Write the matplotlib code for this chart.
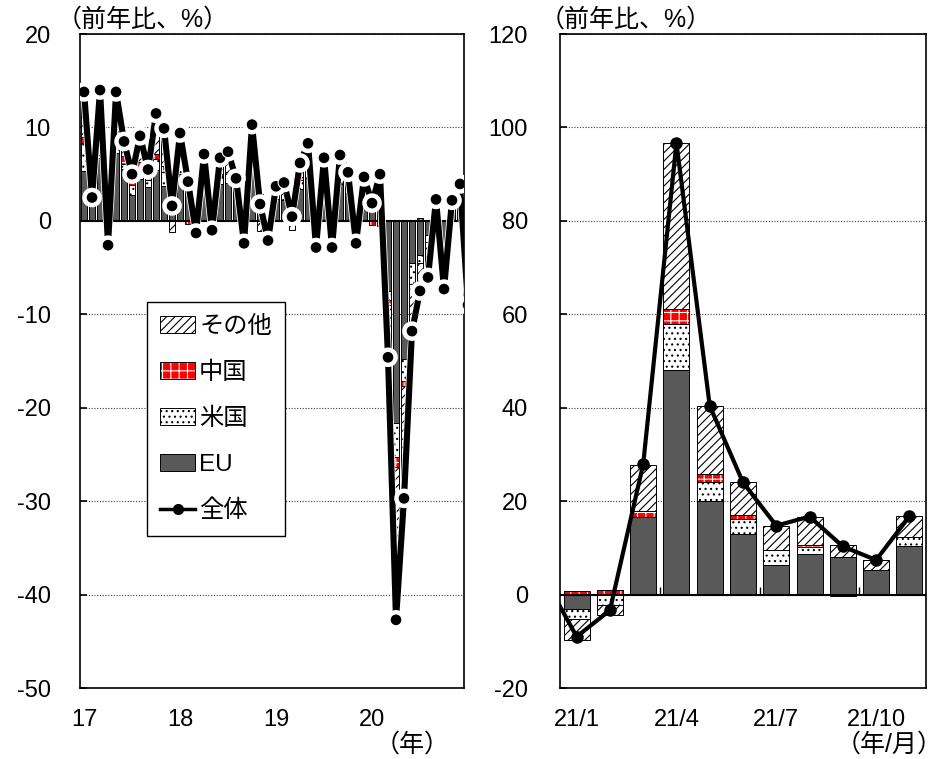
import numpy as np
import matplotlib
matplotlib.use('Agg')
import matplotlib.pyplot as plt
from matplotlib.patches import Patch
from matplotlib.lines import Line2D
import matplotlib.patheffects as pe

plt.rcParams['font.family'] = ['Liberation Sans', 'Noto Sans CJK JP']
plt.rcParams['axes.unicode_minus'] = False
plt.rcParams['hatch.linewidth'] = 0.8

# ---------------- data: left panel (2017/1 - 2020/12, monthly) ----------------
left_ticklabels = ['17', '18', '19', '20']
left_eu = [5.3, 1.6, 6.7, -1.4, 7.3, 5.6, 2.8, 4.5, 3.6, 5.4, 3.7, 2.4,
           5.0, 3.0, -0.6, 4.2, -0.5, 3.9, 4.0, 2.9, -1.3, 6.0, 2.3, -0.9,
           2.3, 2.2, 1.2, 3.4, 4.6, -1.4, 4.0, -1.3, 3.9, 3.0, -1.0, 2.6,
           1.6, 3.2, -7.5, -21.6, -14.8, -4.5, -3.6, -1.5, 1.0, -2.6, 1.5, 2.2]
left_us = [3.0, 0.3, 1.4, -0.5, 1.2, 0.5, 1.0, 1.2, 0.8, 1.2, 1.5, 0.3,
           1.5, 0.8, -0.3, 0.9, -0.2, 0.9, 1.0, 0.7, -0.4, 1.5, 0.4, -0.3,
           0.6, 0.7, 0.2, 1.0, 1.2, -0.6, 1.0, -0.5, 1.2, 0.9, -0.4, 0.8,
           0.4, 0.9, -1.0, -3.7, -2.3, -2.3, -0.9, -0.8, 0.3, -0.5, 0.2, 0.5]
left_cn = [0.7, 0.2, 0.6, 0.0, 0.8, 0.8, 0.5, 0.6, 0.3, 0.6, 0.7, 0.1,
           0.4, -0.3, -0.1, 0.3, 0.0, 0.2, 0.2, 0.2, -0.1, 0.3, 0.2, -0.2,
           0.2, 0.2, 0.05, 0.3, 0.3, -0.2, 0.3, -0.2, 0.3, 0.6, -0.2, 0.3,
           -0.4, -0.5, -0.5, -1.0, -0.6, 0.0, 0.3, 0.1, 0.2, 0.1, 0.2, 0.3]
left_other = [4.8, 0.4, 5.3, -0.7, 4.5, 1.6, 0.7, 2.8, 0.8, 4.3, 4.0, -1.2,
              2.5, 0.7, -0.3, 1.75, -0.3, 1.75, 2.2, 0.75, -0.6, 2.5, -1.1, -0.7,
              0.6, 1.0, -1.0, 1.5, 2.2, -0.65, 1.45, -0.85, 1.65, 0.7, -0.8, 1.0,
              0.3, 1.4, -5.6, -16.4, -12.0, -5.0, -3.3, -3.85, 0.8, -4.3, 0.3, 0.95]
left_total = [13.8, 2.5, 14.0, -2.6, 13.8, 8.5, 5.0, 9.1, 5.5, 11.5, 9.9, 1.6,
              9.4, 4.2, -1.3, 7.15, -1.0, 6.75, 7.4, 4.55, -2.4, 10.3, 1.8, -2.1,
              3.7, 4.1, 0.45, 6.2, 8.3, -2.85, 6.75, -2.85, 7.05, 5.2, -2.4, 4.7,
              1.9, 5.0, -14.6, -42.7, -29.7, -11.8, -7.5, -6.05, 2.3, -7.3, 2.2, 3.95]

# ---------------- data: right panel (2021/1 - 2021/11, monthly) ----------------
right_ticklabels = ['21/1', '21/4', '21/7', '21/10']
right_eu = [-3.1, 0.0, 16.6, 48.0, 20.1, 13.0, 6.3, 8.7, 8.05, 5.35, 10.3]
right_us = [-2.1, -2.2, 0.0, 10.0, 4.05, 3.1, 3.35, 1.5, -0.2, 0.0, 2.05]
right_cn = [0.7, 1.0, 1.4, 3.1, 1.7, 0.85, 0.0, 0.5, 0.0, 0.0, 0.0]
right_other = [-4.5, -2.1, 9.8, 35.5, 14.5, 7.1, 5.1, 6.0, 2.5, 2.0, 4.55]
right_total = [-9.0, -3.35, 27.9, 96.7, 40.4, 24.0, 14.75, 16.7, 10.3, 7.4, 16.75]

series_names = ['EU', '米国', '中国', 'その他']
line_name = '全体'

# ---------------- styles ----------------
styles = [
    dict(face='#595959', hatchcolor='#595959', hatch=None),
    dict(face='white', hatchcolor='black', hatch='...'),
    dict(face='#FF0000', hatchcolor='white', hatch='++'),
    dict(face='white', hatchcolor='black', hatch='////'),
]
FS = 17      # tick labels
FSJ = 18     # Japanese annotation texts
FSL = 17.5   # legend


def draw_stack(ax, comps, width):
    n = len(comps[0])
    x = np.arange(n)
    pos = np.zeros(n)
    neg = np.zeros(n)
    for vals, st in zip(comps, styles):
        v = np.asarray(vals, dtype=float)
        bottom = np.where(v >= 0, pos, neg)
        ax.bar(x, v, width, bottom=bottom, color=st['face'],
               edgecolor=st['hatchcolor'], hatch=st['hatch'], linewidth=0,
               zorder=2)
        ax.bar(x, v, width, bottom=bottom, fill=False, edgecolor='black',
               linewidth=0.7, zorder=2.1)
        pos = pos + np.where(v > 0, v, 0)
        neg = neg + np.where(v < 0, v, 0)
    return x


def style_axes(ax, ylim, yticks, ypad):
    ax.set_ylim(*ylim)
    ax.set_yticks(yticks)
    ax.grid(axis='y', linestyle=(0, (1, 1.5)), color='#404040', linewidth=0.8, zorder=0)
    ax.axhline(0, color='black', linewidth=1.5, zorder=2.5)
    for s in ax.spines.values():
        s.set_linewidth(1.2)
        s.set_color('black')
    ax.tick_params(axis='y', direction='in', length=5, width=1.2,
                   labelsize=FS, pad=ypad)
    ax.tick_params(axis='x', length=0, labelsize=FS, pad=15)


fig = plt.figure(figsize=(9.45, 7.59), dpi=100)
axL = fig.add_axes([0.0847, 0.0935, 0.4063, 0.8617])
axR = fig.add_axes([0.5926, 0.0935, 0.3873, 0.8617])

# ---------------- left panel ----------------
xL = draw_stack(axL, [left_eu, left_us, left_cn, left_other], 0.82)
lx = np.append(xL, len(xL))
ly = np.append(left_total, right_total[0])
axL.plot(lx, ly, color='black', linewidth=4.4, marker='o', markersize=8.5,
         markerfacecolor='black', markeredgecolor='white', markeredgewidth=0.8,
         zorder=3, clip_on=True,
         path_effects=[pe.Stroke(linewidth=5.6, foreground='white'), pe.Normal()])
axL.set_xlim(-0.5, len(xL) - 0.5)
axL.set_xticks(np.arange(0, len(xL), 12))
axL.set_xticklabels(left_ticklabels)
style_axes(axL, (-50, 20), np.arange(-50, 21, 10), 21)

# ---------------- right panel ----------------
xR = draw_stack(axR, [right_eu, right_us, right_cn, right_other], 0.78)
rx = np.insert(xR.astype(float), 0, -1)
ry = np.insert(np.asarray(right_total, dtype=float), 0, left_total[-1])
axR.plot(rx, ry, color='black', linewidth=3.0, marker='o', markersize=8,
         markerfacecolor='black', markeredgecolor='black', zorder=3, clip_on=True)
axR.set_xlim(-0.5, len(xR) - 0.5)
axR.set_xticks(np.arange(0, len(xR), 3))
axR.set_xticklabels(right_ticklabels)
style_axes(axR, (-20, 120), np.arange(-20, 121, 20), 23)
axR.vlines(np.arange(2.5, len(xR) - 1, 3), 0, 1.6, color='black', linewidth=1.0, zorder=2.5)

# ---------------- legend ----------------
h_other = Patch(facecolor='white', edgecolor='black', hatch='////', linewidth=0.7)
h_cn = (Patch(facecolor='#FF0000', edgecolor='white', hatch='++', linewidth=0),
        Patch(fill=False, edgecolor='black', linewidth=0.7))
h_us = Patch(facecolor='white', edgecolor='black', hatch='...', linewidth=0.7)
h_eu = Patch(facecolor='#595959', edgecolor='black', linewidth=0.7)
h_line = Line2D([], [], color='black', linewidth=2.5, marker='o', markersize=7)
leg = axL.legend([h_other, h_cn, h_us, h_eu, h_line],
                 [series_names[3], series_names[2], series_names[1], series_names[0], line_name],
                 loc='upper left', bbox_to_anchor=(0.174, 0.59), borderaxespad=0,
                 fontsize=FSL, frameon=True, fancybox=False, edgecolor='black',
                 framealpha=1, handlelength=1.45, handletextpad=0.15,
                 labelspacing=0.98, borderpad=0.55)
leg.get_frame().set_linewidth(1.0)
leg.set_zorder(5)

# ---------------- texts ----------------
fig.text(0.060, 1 - 20 / 759, '（前年比、%）', fontsize=FSJ, va='center', ha='left')
fig.text(0.571, 1 - 20 / 759, '（前年比、%）', fontsize=FSJ, va='center', ha='left')
fig.text(0.436, 14 / 759, '（年）', fontsize=FSJ, va='center', ha='center')
fig.text(0.998, 14 / 759, '（年/月）', fontsize=FSJ, va='center', ha='right')

fig.savefig('out.png', dpi=100)
